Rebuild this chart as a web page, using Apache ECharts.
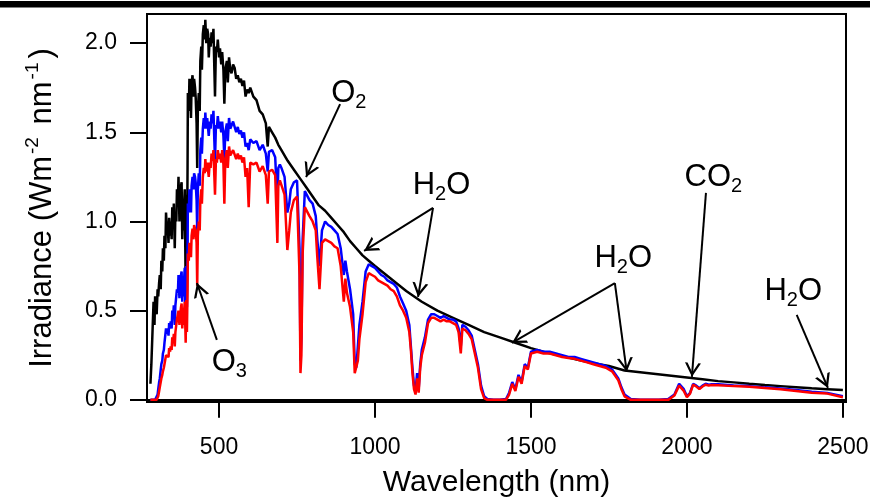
<!DOCTYPE html>
<html>
<head>
<meta charset="utf-8">
<script src="https://cdn.jsdelivr.net/npm/echarts@6/dist/echarts.min.js"></script>
<style>
  html, body { margin: 0; padding: 0; background: #fff; }
  #chart { width: 870px; height: 497px; }
</style>
</head>
<body>
<div id="chart"></div>
<script>
// Solar spectral irradiance: [wavelength nm, irradiance W m^-2 nm^-1]
const extraterrestrial = [
  [280,0.09],[283,0.20],[285,0.30],[288,0.45],[290,0.55],[293,0.42],[295,0.58],[298,0.50],[300,0.48],[303,0.62],
  [305,0.58],[308,0.66],[310,0.70],[313,0.62],[315,0.78],[318,0.72],[320,0.85],[323,0.78],[325,0.92],[328,0.85],
  [330,1.05],[333,0.95],[335,1.00],[338,0.88],[340,1.02],[343,0.92],[345,1.00],[348,0.90],[350,1.08],[353,0.98],
  [355,1.10],[358,0.85],[360,1.05],[363,1.00],[365,1.18],[368,1.12],[370,1.25],[373,1.00],[375,1.10],[378,1.20],
  [380,1.22],[382,0.90],[384,1.05],[386,0.95],[388,1.10],[390,1.18],[393,0.62],[395,1.15],[397,0.75],[399,1.30],
  [400,1.72],[403,1.62],[405,1.80],[408,1.70],[410,1.58],[412,1.78],[415,1.82],[418,1.70],[420,1.80],[423,1.75],
  [425,1.70],[428,1.55],[430,1.30],[432,1.62],[435,1.72],[438,1.62],[440,1.90],[443,1.98],[445,1.85],[448,2.05],
  [451,2.10],[454,2.02],[456,2.13],[459,2.00],[462,2.08],[465,2.05],[467,1.92],[470,2.03],[473,1.98],[476,2.06],
  [479,2.00],[482,2.08],[485,1.85],[487,1.70],[490,1.98],[493,1.95],[496,2.02],[500,1.92],[503,1.97],[507,1.88],
  [510,1.95],[514,1.85],[517,1.66],[520,1.85],[525,1.90],[528,1.78],[532,1.92],[536,1.85],[540,1.83],[545,1.88],
  [550,1.86],[555,1.80],[560,1.82],[565,1.78],[570,1.80],[575,1.76],[580,1.79],[585,1.70],[590,1.74],[595,1.72],
  [600,1.75],[610,1.70],[620,1.68],[630,1.62],[640,1.60],[650,1.55],[656,1.42],[660,1.53],[670,1.50],[680,1.47],
  [690,1.43],[700,1.40],[720,1.34],[740,1.29],[760,1.24],[780,1.19],[800,1.14],[820,1.09],[840,1.06],[860,1.02],
  [880,0.98],[900,0.94],[920,0.89],[940,0.85],[960,0.81],[980,0.78],[1000,0.75],[1050,0.68],[1100,0.61],[1150,0.55],
  [1200,0.50],[1250,0.46],[1300,0.42],[1350,0.38],[1400,0.35],[1450,0.32],[1500,0.29],[1550,0.265],[1600,0.245],[1650,0.225],
  [1700,0.205],[1750,0.19],[1800,0.165],[1850,0.155],[1900,0.145],[1950,0.135],[2000,0.125],[2050,0.115],[2100,0.105],[2150,0.098],
  [2200,0.09],[2250,0.083],[2300,0.077],[2350,0.071],[2400,0.065],[2450,0.06],[2500,0.055]
];

const globalTilt = [
  [280,0],[295,0],[298,0.005],[300,0.01],[303,0.03],[305,0.06],[308,0.10],[310,0.12],[313,0.17],[315,0.20],
  [318,0.22],[320,0.26],[323,0.28],[325,0.32],[328,0.33],[330,0.40],[333,0.37],[335,0.40],[338,0.36],[340,0.43],
  [343,0.40],[345,0.44],[348,0.40],[350,0.50],[353,0.47],[355,0.53],[358,0.42],[360,0.53],[363,0.52],[365,0.62],
  [368,0.60],[370,0.70],[373,0.57],[375,0.63],[378,0.70],[380,0.72],[382,0.55],[384,0.64],[386,0.58],[388,0.68],
  [390,0.74],[393,0.42],[395,0.75],[397,0.52],[399,0.85],[400,1.10],[403,1.05],[405,1.18],[408,1.14],[410,1.05],
  [412,1.20],[415,1.25],[418,1.18],[420,1.27],[423,1.25],[425,1.22],[428,1.12],[430,0.95],[432,1.18],[435,1.27],
  [438,1.20],[440,1.40],[443,1.47],[445,1.38],[448,1.52],[451,1.58],[454,1.52],[456,1.61],[459,1.52],[462,1.58],
  [465,1.57],[467,1.48],[470,1.56],[473,1.52],[476,1.60],[479,1.55],[482,1.62],[485,1.45],[487,1.34],[490,1.54],
  [493,1.52],[496,1.59],[500,1.52],[503,1.56],[507,1.50],[510,1.56],[514,1.48],[517,1.35],[520,1.50],[525,1.55],
  [528,1.45],[532,1.58],[536,1.52],[540,1.51],[545,1.56],[550,1.55],[555,1.50],[560,1.53],[565,1.49],[570,1.51],
  [575,1.47],[580,1.50],[585,1.42],[590,1.44],[595,1.40],[600,1.46],[610,1.44],[620,1.45],[630,1.40],[640,1.43],
  [650,1.38],[656,1.28],[660,1.39],[670,1.40],[680,1.36],[687,1.10],[690,1.30],[695,1.32],[700,1.30],[710,1.25],
  [719,1.05],[725,1.10],[730,1.18],[740,1.22],[750,1.23],[758,0.85],[761,0.22],[764,0.35],[768,0.90],[775,1.17],
  [780,1.16],[790,1.12],[800,1.10],[810,1.03],[815,0.90],[822,0.75],[830,0.95],[840,1.00],[850,0.98],[860,0.97],
  [870,0.95],[880,0.93],[890,0.85],[900,0.70],[905,0.78],[910,0.72],[920,0.62],[930,0.48],[935,0.20],[940,0.18],
  [945,0.30],[950,0.42],[960,0.55],[970,0.72],[980,0.76],[990,0.75],[1000,0.74],[1010,0.72],[1020,0.70],[1030,0.69],
  [1040,0.67],[1050,0.66],[1060,0.65],[1070,0.63],[1080,0.58],[1090,0.54],[1100,0.50],[1110,0.42],[1115,0.30],[1120,0.18],
  [1125,0.08],[1130,0.05],[1135,0.15],[1140,0.06],[1145,0.20],[1150,0.28],[1160,0.35],[1170,0.45],[1180,0.48],[1190,0.48],
  [1200,0.47],[1210,0.46],[1220,0.47],[1230,0.46],[1240,0.45],[1250,0.45],[1260,0.44],[1268,0.40],[1275,0.30],[1280,0.42],
  [1290,0.41],[1300,0.39],[1310,0.36],[1320,0.28],[1330,0.20],[1340,0.08],[1350,0.02],[1360,0.005],[1380,0],[1400,0],
  [1420,0.005],[1430,0.04],[1440,0.10],[1450,0.06],[1460,0.14],[1470,0.10],[1480,0.20],[1490,0.18],[1500,0.27],[1520,0.28],
  [1540,0.27],[1560,0.27],[1580,0.26],[1600,0.25],[1620,0.24],[1640,0.24],[1660,0.23],[1680,0.22],[1700,0.21],[1720,0.20],
  [1740,0.19],[1760,0.17],[1780,0.12],[1790,0.07],[1800,0.03],[1820,0.005],[1850,0],[1880,0],[1910,0],[1940,0.005],
  [1960,0.03],[1975,0.09],[1990,0.06],[2000,0.02],[2010,0.04],[2020,0.09],[2030,0.08],[2040,0.065],[2050,0.08],[2060,0.09],
  [2070,0.085],[2080,0.088],[2100,0.087],[2150,0.08],[2200,0.077],[2250,0.07],[2300,0.064],[2350,0.055],[2400,0.045],[2450,0.038],
  [2500,0.02]
];

const directCircumsolar = [
  [280,0],[300,0],[303,0.005],[305,0.02],[308,0.05],[310,0.07],[313,0.10],[315,0.12],[318,0.14],[320,0.16],
  [323,0.18],[325,0.20],[328,0.21],[330,0.25],[333,0.24],[335,0.26],[338,0.24],[340,0.29],[343,0.27],[345,0.30],
  [348,0.28],[350,0.35],[353,0.33],[355,0.37],[358,0.30],[360,0.38],[363,0.38],[365,0.45],[368,0.44],[370,0.50],
  [373,0.42],[375,0.47],[378,0.52],[380,0.54],[382,0.40],[384,0.48],[386,0.42],[388,0.50],[390,0.55],[393,0.32],
  [395,0.56],[397,0.38],[399,0.62],[400,0.82],[403,0.78],[405,0.88],[408,0.86],[410,0.80],[412,0.92],[415,0.96],
  [418,0.90],[420,0.98],[423,0.97],[425,0.95],[428,0.88],[430,0.64],[432,0.92],[435,1.00],[438,0.95],[440,1.12],
  [443,1.18],[445,1.10],[448,1.25],[451,1.30],[454,1.27],[456,1.35],[459,1.28],[462,1.33],[465,1.33],[467,1.25],
  [470,1.33],[473,1.30],[476,1.38],[479,1.34],[482,1.40],[485,1.25],[487,1.15],[490,1.35],[493,1.33],[496,1.40],
  [500,1.35],[503,1.38],[507,1.33],[510,1.40],[514,1.32],[517,1.10],[520,1.35],[525,1.40],[528,1.30],[532,1.42],
  [536,1.37],[540,1.36],[545,1.40],[550,1.40],[555,1.35],[560,1.38],[565,1.35],[570,1.37],[575,1.33],[580,1.36],
  [585,1.25],[590,1.30],[595,1.08],[600,1.33],[610,1.32],[620,1.33],[630,1.28],[640,1.31],[650,1.26],[656,1.10],
  [660,1.28],[670,1.29],[680,1.26],[687,0.88],[690,1.20],[695,1.23],[700,1.22],[710,1.15],[719,0.84],[725,0.95],
  [730,1.05],[740,1.12],[750,1.14],[758,0.70],[761,0.15],[764,0.25],[768,0.82],[775,1.08],[780,1.07],[790,1.03],
  [800,1.00],[810,0.95],[815,0.80],[822,0.62],[830,0.88],[840,0.90],[850,0.89],[860,0.88],[870,0.86],[880,0.85],
  [890,0.75],[900,0.55],[905,0.68],[910,0.60],[920,0.52],[930,0.38],[935,0.15],[940,0.14],[945,0.22],[950,0.34],
  [960,0.48],[970,0.66],[980,0.71],[990,0.70],[1000,0.69],[1010,0.67],[1020,0.66],[1030,0.65],[1040,0.64],[1050,0.62],
  [1060,0.61],[1070,0.58],[1080,0.53],[1090,0.50],[1100,0.46],[1110,0.38],[1115,0.28],[1120,0.15],[1125,0.06],[1130,0.03],
  [1135,0.12],[1140,0.04],[1145,0.18],[1150,0.25],[1160,0.32],[1170,0.43],[1180,0.46],[1190,0.46],[1200,0.45],[1210,0.44],
  [1220,0.45],[1230,0.44],[1240,0.44],[1250,0.43],[1260,0.42],[1268,0.38],[1275,0.26],[1280,0.40],[1290,0.39],[1300,0.37],
  [1310,0.34],[1320,0.26],[1330,0.18],[1340,0.06],[1350,0.01],[1360,0],[1380,0],[1400,0],[1420,0],[1430,0.03],
  [1440,0.09],[1450,0.05],[1460,0.13],[1470,0.09],[1480,0.19],[1490,0.17],[1500,0.26],[1520,0.27],[1540,0.26],[1560,0.26],
  [1580,0.25],[1600,0.24],[1620,0.235],[1640,0.23],[1660,0.22],[1680,0.21],[1700,0.20],[1720,0.19],[1740,0.18],[1760,0.16],
  [1780,0.11],[1790,0.06],[1800,0.02],[1820,0],[1850,0],[1880,0],[1910,0],[1940,0],[1960,0.025],[1975,0.08],
  [1990,0.05],[2000,0.015],[2010,0.035],[2020,0.085],[2030,0.075],[2040,0.06],[2050,0.075],[2060,0.085],[2070,0.08],[2080,0.083],
  [2100,0.082],[2150,0.077],[2200,0.074],[2250,0.067],[2300,0.06],[2350,0.05],[2400,0.04],[2450,0.035],[2500,0.015]
];

const xTicks = [500, 1000, 1500, 2000, 2500];
const yTicks = [0, 0.5, 1.0, 1.5, 2.0];

// Absorber labels: text, position of label centre [nm, irradiance]
const absorberLabels = [
  ['O{sub|2}', [916, 1.72]],
  ['H{sub|2}O', [1213, 1.204]],
  ['H{sub|2}O', [1796, 0.79]],
  ['CO{sub|2}', [2085, 1.244]],
  ['H{sub|2}O', [2341, 0.605]],
  ['O{sub|3}', [533, 0.207]]
];

// Arrows from label to absorption feature: [from, to]
const absorberArrows = [
  [[888, 1.658], [779, 1.249]],
  [[1186, 1.076], [965, 0.835]],
  [[1186, 1.076], [1138, 0.577]],
  [[1769, 0.655], [1439, 0.319]],
  [[1769, 0.655], [1807, 0.157]],
  [[2061, 1.160], [2016, 0.129]],
  [[2352, 0.476], [2452, 0.067]],
  [[493, 0.336], [429, 0.655]]
];

const FONT = 'Liberation Sans, Arial, Helvetica, sans-serif';
// open V arrowhead; tip at the centre of the symbol box
const openArrow = 'path://M50,0 M50,50 L100,100 L84,100 L50,66 L16,100 L0,100 Z';

const chart = echarts.init(document.getElementById('chart'), null, { renderer: 'canvas' });

const lineSeries = (name, data, color, z) => ({
  name, type: 'line', data, z,
  showSymbol: false, symbol: 'none', sampling: null,
  lineStyle: { color, width: 2.5 },
  emphasis: { disabled: true },
  animation: false
});

const black = lineSeries('Extraterrestrial', extraterrestrial, '#000000', 2);
black.markLine = {
  silent: true, animation: false,
  symbol: ['none', openArrow],
  symbolSize: [16, 28],
  label: { show: false },
  lineStyle: { color: '#000', width: 2, type: 'solid' },
  emphasis: { disabled: true },
  data: absorberArrows.map(a => [{ coord: a[0] }, { coord: a[1] }])
};
black.markPoint = {
  silent: true, animation: false,
  symbol: 'circle', symbolSize: 0,
  data: absorberLabels.map(l => ({
    coord: l[1],
    label: {
      show: true, position: 'inside', formatter: l[0],
      fontFamily: FONT, fontSize: 31, color: '#000', lineHeight: 38,
      rich: {
        sub: { fontFamily: FONT, fontSize: 20, lineHeight: 20, verticalAlign: 'bottom', color: '#000' }
      }
    }
  }))
};

chart.setOption({
  backgroundColor: '#ffffff',
  animation: false,
  textStyle: { fontFamily: FONT },
  grid: {
    left: 147, right: 24, top: 14, bottom: 95,
    containLabel: false, outerBoundsMode: 'none',
    show: true, borderColor: '#000', borderWidth: 2, backgroundColor: 'transparent'
  },
  graphic: [{
    type: 'rect', left: 0, top: 1, silent: true,
    shape: { width: 870, height: 6.5 },
    style: { fill: '#000' }
  }],
  xAxis: {
    type: 'value', min: 269, max: 2510,
    name: 'Wavelength (nm)', nameLocation: 'middle', nameGap: 66,
    nameTextStyle: { fontFamily: FONT, fontSize: 30, color: '#000' },
    axisLine: { show: true, lineStyle: { color: '#000', width: 2 } },
    axisTick: { show: true, inside: false, length: 18, customValues: xTicks, lineStyle: { color: '#000', width: 2 } },
    axisLabel: { customValues: xTicks, fontFamily: FONT, fontSize: 23, color: '#000', margin: 34,
      formatter: v => String(v) },
    splitLine: { show: false }
  },
  yAxis: {
    type: 'value', min: -0.012, max: 2.163,
    name: 'Irradiance (Wm{sup|-2} nm{sup|-1})', nameLocation: 'middle', nameGap: 86,
    nameTextStyle: {
      fontFamily: FONT, fontSize: 31, color: '#000', lineHeight: 38,
      rich: { sup: { fontFamily: FONT, fontSize: 19, lineHeight: 19, verticalAlign: 'top', color: '#000', padding: [0, 4, 0, 2] } }
    },
    axisLine: { show: true, lineStyle: { color: '#000', width: 2 } },
    axisTick: { show: true, inside: false, length: 17, customValues: yTicks, lineStyle: { color: '#000', width: 2 } },
    axisLabel: { customValues: yTicks, fontFamily: FONT, fontSize: 23, color: '#000', margin: 30,
      formatter: v => v.toFixed(1) },
    splitLine: { show: false }
  },
  series: [
    black,
    lineSeries('Global tilt', globalTilt, '#0000ff', 3),
    lineSeries('Direct + circumsolar', directCircumsolar, '#ff0000', 4)
  ]
});
</script>
</body>
</html>
